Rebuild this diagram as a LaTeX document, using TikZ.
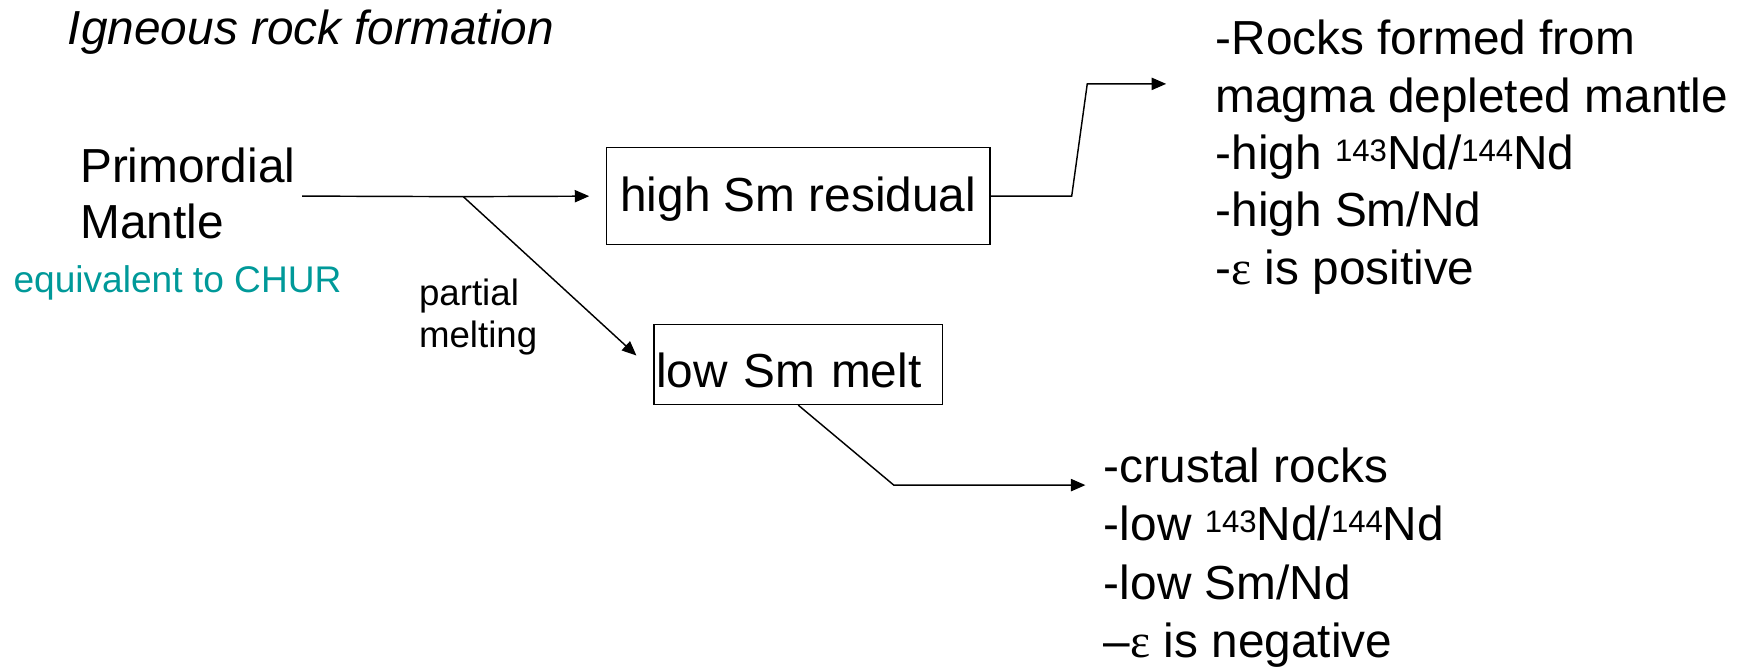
\documentclass[tikz,border=0pt]{standalone}
\usepackage{fontspec}
\setmainfont{Liberation Sans}
\newfontfamily\grkfont{Liberation Serif}
\usetikzlibrary{arrows.meta,calc}
\definecolor{tealtxt}{RGB}{0,153,153}
\newcommand{\isup}[1]{\raisebox{7.5pt}{\fontsize{28}{28}\selectfont #1}}
\newcommand{\eps}{{\grkfont ε}}
\tikzset{
  conn/.style={line width=1.3pt, -{Triangle[length=13pt,width=11pt]}},
  boxnode/.style={draw, line width=1.3pt, inner sep=0pt, font=\fontsize{43}{51}\selectfont},
  txt/.style={inner sep=0pt, align=left, anchor=north west},
}
\begin{document}
\begin{tikzpicture}[x=1pt,y=-1pt]
\useasboundingbox (0,0) rectangle (1568,600);
% title
\node[inner sep=0pt, anchor=base west, font=\fontsize{43}{50}\selectfont\itshape] (title) at (61,40.5) {Igneous rock formation};
% primordial mantle
\node[txt, font=\fontsize{43}{51}\selectfont] (pm) at (72,132.5) {Primordial\\Mantle};
\node[inner sep=0pt, anchor=base west, text=tealtxt, font=\fontsize{33.4}{40}\selectfont] (chur) at (12,263) {equivalent to CHUR};
% boxes
\node[boxnode, minimum width=345pt, minimum height=87pt, text height=37pt, text depth=9pt] (hsr) at (718.5,176.5) {high Sm residual};
\node[boxnode, minimum width=260pt, minimum height=72pt, text width=256pt, inner xsep=2pt, align=left, text height=42pt, text depth=0pt] (lsm) at (718.5,328) {low Sm melt};
% partial melting
\node[txt, font=\fontsize{33}{38}\selectfont] (pmelt) at (377,250.5) {partial\\melting};
% right text blocks
\node[txt, font=\fontsize{43}{51.6}\selectfont] (rt1) at (1094,18) {-Rocks formed from\\magma depleted mantle\\-high \isup{143}Nd/\isup{144}Nd\\-high Sm/Nd\\-\eps{} is positive};
\node[txt, font=\fontsize{43}{52.5}\selectfont] (rt2) at (993.5,403) {-crustal rocks\\-low \isup{143}Nd/\isup{144}Nd\\-low Sm/Nd\\--\eps{} is negative};
% connectors
\coordinate (br) at (417,177);
\draw[line width=1.3pt] ([xshift=6pt]pm.east |- hsr.west) -- (br);
\draw[conn, shorten >=15pt] (br) -- (hsr.west);
\draw[conn] (br) -- ($(lsm.west)+(-15,-8)$);
\draw[conn] (hsr.east) -- ++(73,0) -- ++(14,-101) -- ++(71,0);
\draw[conn] (lsm.south) -- ++(86,72) -- ++(172.5,0);
\end{tikzpicture}
\end{document}
